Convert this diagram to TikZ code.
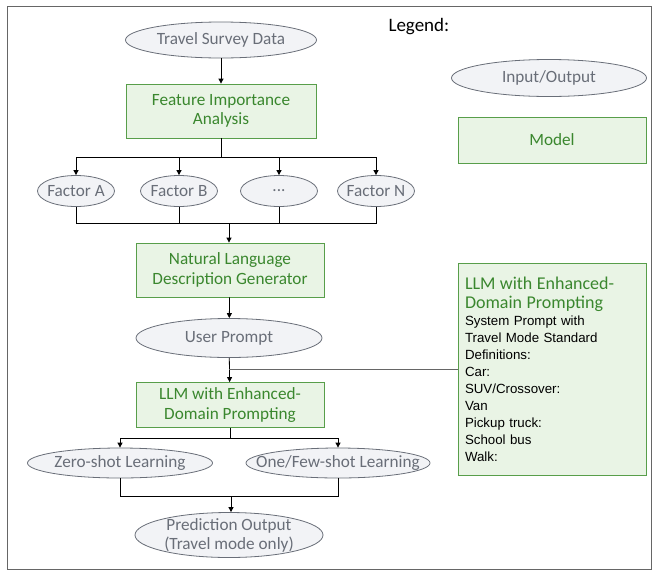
\documentclass[tikz,border=0pt]{standalone}
\usepackage{fontspec}
\setmainfont{Carlito}
\newfontfamily\defsfont{Liberation Sans}
\usetikzlibrary{arrows.meta,shapes.geometric}

\definecolor{iofill}{RGB}{242,243,246}
\definecolor{iodraw}{RGB}{105,110,120}
\definecolor{iotext}{RGB}{105,110,120}
\definecolor{modelfill}{RGB}{233,244,229}
\definecolor{modeldraw}{RGB}{88,158,74}
\definecolor{modeltext}{RGB}{58,135,46}

\tikzset{
  iobox/.style={ellipse, draw=iodraw, fill=iofill, text=iotext, line width=0.8pt,
    inner xsep=-25pt, inner ysep=-6pt, align=center,
    font=\fontsize{17.2}{19}\selectfont},
  modelbox/.style={rectangle, draw=modeldraw, fill=modelfill, text=modeltext, line width=0.8pt,
    inner sep=0pt, align=center, font=\fontsize{17.2}{19.5}\selectfont},
  link/.style={draw, line width=0.8pt},
  arrowlink/.style={link, -{Triangle[length=5pt,width=5pt]}}
}

\begin{document}
\begin{tikzpicture}[x=1pt,y=-1pt]

      \useasboundingbox (0,0) rectangle (658,571);
      \draw[black!60, line width=0.8pt] (7,6) rectangle (651,569);

      \begin{scope}[every node/.style={iobox}]
        \node[minimum width=191, minimum height=36] (tsd)   at (221,40)  {Travel Survey Data};
        \node[minimum width=77,  minimum height=31] (fa)    at (76,191)  {Factor A};
        \node[minimum width=77,  minimum height=31] (fb)    at (179,191) {Factor B};
        \node[minimum width=77,  minimum height=31] (fdots) at (279,191) {...};
        \node[minimum width=77,  minimum height=31] (fn)    at (376,191) {Factor N};
        \node[minimum width=186, minimum height=39] (up)    at (229,338) {User Prompt};
        \node[minimum width=185, minimum height=30] (zs)    at (120,463) {Zero-shot Learning};
        \node[minimum width=184, minimum height=30] (ofs)   at (338,463) {One/Few-shot Learning};
        \node[minimum width=188, minimum height=45] (pred)  at (229,535) {Prediction Output\\(Travel mode only)};
        \node[minimum width=195, minimum height=37] (iolegend) at (549,78) {Input/Output};
      \end{scope}

      \begin{scope}[every node/.style={modelbox}]
        \node[minimum width=190, minimum height=54] (fia)  at (221,111) {Feature Importance\\Analysis};
        \node[minimum width=188, minimum height=54] (nldg) at (230,270) {Natural Language\\Description Generator};
        \node[minimum width=188, minimum height=45] (llm)  at (230,405) {LLM with Enhanced-\\Domain Prompting};
        \node[minimum width=188, minimum height=46] (modellegend) at (552,140) {Model};
        \node[minimum width=188, minimum height=212, text width=174, align=left,
              font=\defsfont\fontsize{13.3}{17}\selectfont] (llmdef) at (552,369)
          {{\rmfamily\fontsize{18}{19}\selectfont\color{modeltext}LLM with Enhanced-\\Domain Prompting\par}
           \color{black}System Prompt with\\Travel Mode Standard\\Definitions:\\Car:\\SUV/Crossover:\\Van\\Pickup truck:\\School bus\\Walk:};
      \end{scope}

      \node[font=\fontsize{19}{22}\selectfont, anchor=west] (legend) at (385,27) {Legend:};

      % connectors
      \coordinate (split)  at (221,157);
      \coordinate (merge)  at (229,223);
      \coordinate (branch) at (230,438);
      \coordinate (join)   at (231,496);

      \draw[arrowlink] (tsd) -- (fia);
      \draw[link] (fia) -- (split);
      \foreach \f in {fa,fb,fdots,fn}
        \draw[arrowlink] (split) -| (\f.north);
      \foreach \f in {fa,fb,fdots,fn}
        \draw[link] (\f.south) |- (merge);
      \draw[arrowlink] (merge) -- (merge |- nldg.north);
      \draw[arrowlink] (nldg) -- (up);
      \draw[arrowlink] (up) -- (llm);
      \draw[link, black!60] (llmdef.west) -- (llmdef.west -| up.south);
      \draw[link] (llm.south -| branch) -- (branch);
      \draw[arrowlink] (branch) -| (zs.north);
      \draw[arrowlink] (branch) -| (ofs.north);
      \draw[link] (zs.south) |- (join);
      \draw[link] (ofs.south) |- (join);
      \draw[arrowlink] (join) -- (join |- pred.north);

    \end{tikzpicture}
\end{document}
